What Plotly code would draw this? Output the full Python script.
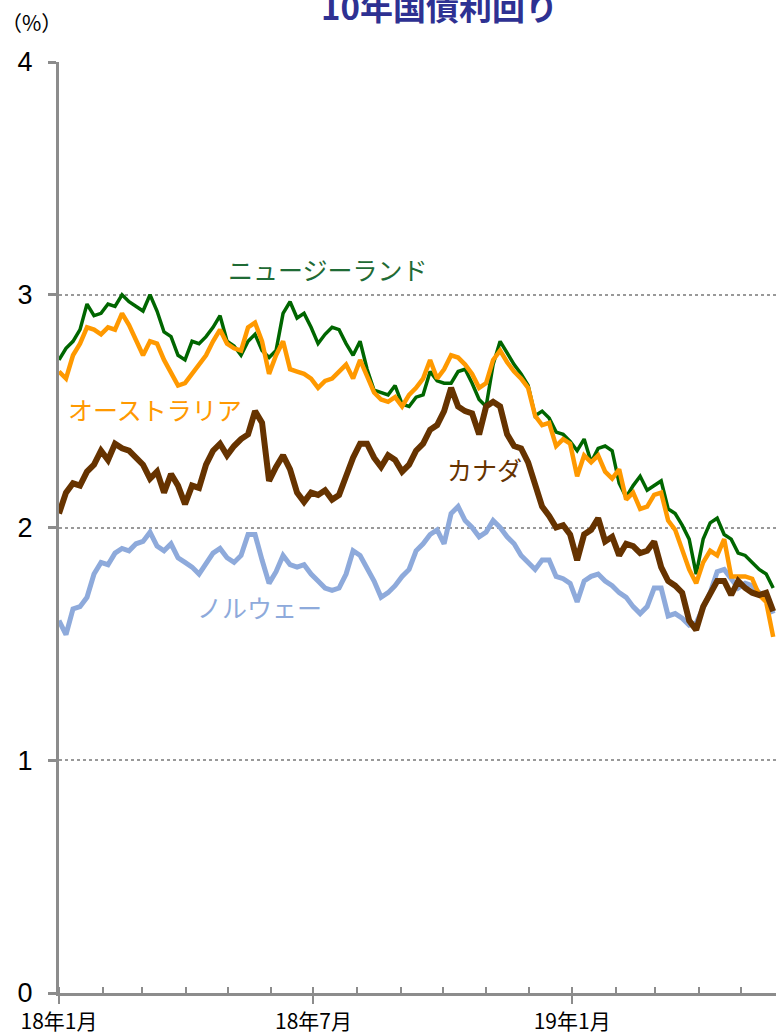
import pandas as pd
import plotly.graph_objects as go

# sampling dates (about every 5 days, Jan 2018 - late May 2019)
dates = pd.date_range("2018-01-01", "2019-05-24", periods=103)

nz = [
    2.72, 2.77, 2.80, 2.85, 2.96, 2.91, 2.92, 2.96, 2.95, 3.00,
    2.97, 2.95, 2.93, 3.00, 2.93, 2.84, 2.82, 2.74, 2.72, 2.80,
    2.79, 2.82, 2.86, 2.91, 2.80, 2.78, 2.74, 2.80, 2.83, 2.76,
    2.73, 2.76, 2.92, 2.97, 2.90, 2.92, 2.86, 2.79, 2.83, 2.86,
    2.85, 2.79, 2.74, 2.80, 2.68, 2.59, 2.58, 2.57, 2.61, 2.53,
    2.52, 2.56, 2.57, 2.67, 2.63, 2.62, 2.62, 2.67, 2.68, 2.62,
    2.55, 2.52, 2.70, 2.80, 2.75, 2.70, 2.66, 2.61, 2.48, 2.50,
    2.47, 2.41, 2.40, 2.37, 2.33, 2.38, 2.28, 2.34, 2.35, 2.33,
    2.19, 2.13, 2.18, 2.22, 2.16, 2.18, 2.20, 2.08, 2.06, 2.01,
    1.95, 1.80, 1.95, 2.02, 2.04, 1.97, 1.95, 1.89, 1.88, 1.85,
    1.82, 1.80, 1.74,
]
australia = [
    2.67, 2.64, 2.74, 2.79, 2.86, 2.85, 2.83, 2.86, 2.85, 2.92,
    2.87, 2.80, 2.74, 2.80, 2.79, 2.72, 2.66, 2.61, 2.62, 2.66,
    2.70, 2.74, 2.80, 2.85, 2.79, 2.77, 2.76, 2.86, 2.88, 2.80,
    2.66, 2.74, 2.80, 2.68, 2.67, 2.66, 2.64, 2.60, 2.63, 2.64,
    2.67, 2.70, 2.64, 2.72, 2.65, 2.58, 2.55, 2.54, 2.56, 2.52,
    2.57, 2.60, 2.64, 2.72, 2.64, 2.68, 2.74, 2.73, 2.70, 2.66,
    2.60, 2.62, 2.72, 2.76, 2.71, 2.67, 2.64, 2.60, 2.48, 2.44,
    2.45, 2.35, 2.38, 2.36, 2.22, 2.31, 2.28, 2.31, 2.24, 2.21,
    2.25, 2.12, 2.15, 2.08, 2.09, 2.14, 2.15, 2.03, 1.99, 1.90,
    1.82, 1.76, 1.85, 1.90, 1.88, 1.95, 1.79, 1.79, 1.79, 1.78,
    1.71, 1.68, 1.53,
]
canada = [
    2.06, 2.15, 2.19, 2.18, 2.24, 2.27, 2.33, 2.29, 2.36, 2.34,
    2.33, 2.30, 2.27, 2.21, 2.24, 2.15, 2.23, 2.18, 2.10, 2.18,
    2.17, 2.27, 2.33, 2.36, 2.31, 2.35, 2.38, 2.40, 2.50, 2.45,
    2.20, 2.26, 2.31, 2.25, 2.15, 2.11, 2.15, 2.14, 2.16, 2.12,
    2.14, 2.22, 2.30, 2.36, 2.36, 2.30, 2.26, 2.31, 2.29, 2.24,
    2.27, 2.33, 2.36, 2.42, 2.44, 2.50, 2.60, 2.52, 2.50, 2.49,
    2.40, 2.52, 2.54, 2.52, 2.40, 2.35, 2.34, 2.28, 2.19, 2.09,
    2.05, 2.00, 2.01, 1.97, 1.86, 1.97, 1.99, 2.04, 1.94, 1.96,
    1.88, 1.93, 1.92, 1.89, 1.90, 1.94, 1.83, 1.77, 1.75, 1.72,
    1.60, 1.56, 1.66, 1.72, 1.77, 1.77, 1.71, 1.77, 1.74, 1.72,
    1.71, 1.72, 1.64,
]
norway = [
    1.60, 1.54, 1.65, 1.66, 1.70, 1.80, 1.85, 1.84, 1.89, 1.91,
    1.90, 1.93, 1.94, 1.98, 1.92, 1.90, 1.93, 1.87, 1.85, 1.83,
    1.80, 1.85, 1.89, 1.91, 1.87, 1.85, 1.88, 1.97, 1.97, 1.86,
    1.76, 1.81, 1.88, 1.84, 1.83, 1.84, 1.80, 1.77, 1.74, 1.73,
    1.74, 1.80, 1.90, 1.88, 1.83, 1.77, 1.70, 1.72, 1.75, 1.79,
    1.82, 1.90, 1.93, 1.97, 1.99, 1.93, 2.06, 2.09, 2.03, 2.00,
    1.96, 1.98, 2.03, 2.00, 1.96, 1.93, 1.88, 1.85, 1.82, 1.86,
    1.86, 1.79, 1.78, 1.76, 1.68, 1.77, 1.79, 1.80, 1.77, 1.75,
    1.72, 1.70, 1.66, 1.63, 1.66, 1.74, 1.74, 1.62, 1.63, 1.61,
    1.58, 1.59, 1.66, 1.72, 1.81, 1.82, 1.78, 1.74, 1.76, 1.75,
    1.72, 1.70, 1.63,
]

tick_dates = ["2018-01-01", "2018-07-01", "2019-01-01"]
tick_labels = ["18年1月", "18年7月", "19年1月"]

# (series, colour, width, label text, label x [paper], label y [value], label colour)
series = [
    (nz, "#006600", 3.5, "ニュージーランド", 0.375, 3.11, "#1f6b35"),
    (norway, "#8eaadb", 5, "ノルウェー", 0.280, 1.66, "#8eaadb"),
    (australia, "#ff9900", 4.5, "オーストラリア", 0.134, 2.51, "#ff9900"),
    (canada, "#663300", 6, "カナダ", 0.593, 2.25, "#663300"),
]

JP_FONT = "Noto Sans CJK JP"
AXIS_GREY = "#8c8c8c"

fig = go.Figure()
for values, color, width, name, lx, ly, lcolor in series:
    fig.add_trace(go.Scatter(
        x=dates, y=values, name=name, mode="lines",
        line=dict(color=color, width=width),
    ))
    fig.add_annotation(
        x=lx, xref="paper", y=ly, yref="y", text=name, showarrow=False,
        xanchor="center", yanchor="middle",
        font=dict(family=JP_FONT, size=25, color=lcolor),
    )

# title sits partly above the top edge, as in the original crop
fig.add_annotation(
    x=0.531, xref="paper", y=1.060, yref="paper", text="<b>10年国債利回り</b>",
    showarrow=False, xanchor="center", yanchor="middle",
    font=dict(family=JP_FONT, size=33, color="#2e3192"),
)
fig.add_annotation(
    x=-0.038, xref="paper", y=1.043, yref="paper", text="（%）",
    showarrow=False, xanchor="center", yanchor="middle",
    font=dict(family=JP_FONT, size=21, color="#000000"),
)

fig.update_layout(
    width=776, height=1035,
    margin=dict(l=59, r=0, t=62, b=40),
    paper_bgcolor="white", plot_bgcolor="white",
    showlegend=False,
    xaxis=dict(
        range=["2018-01-01", "2019-05-26"],
        tickvals=tick_dates, ticktext=tick_labels,
        ticks="outside", ticklen=8, tickwidth=2, tickcolor=AXIS_GREY,
        minor=dict(dtick="M1", tick0="2018-01-01", ticks="inside", ticklen=6,
                   tickwidth=2, tickcolor=AXIS_GREY, showgrid=False),
        showline=True, linecolor=AXIS_GREY, linewidth=3,
        showgrid=False, zeroline=False,
        tickfont=dict(family=JP_FONT, size=21, color="#000000"),
    ),
    yaxis=dict(
        range=[0, 4], dtick=1,
        ticks="outside", ticklen=8, tickwidth=3, tickcolor=AXIS_GREY,
        ticklabelstandoff=10,
        showline=True, linecolor=AXIS_GREY, linewidth=3,
        showgrid=True, gridcolor="#999999", griddash="dot", gridwidth=1.5,
        zeroline=False,
        tickfont=dict(family="Liberation Sans", size=27, color="#000000"),
    ),
)

fig.write_html(
    "out.html",
    config={"displayModeBar": False},
    post_script="document.body.style.margin='0';document.body.style.overflow='hidden';",
)
